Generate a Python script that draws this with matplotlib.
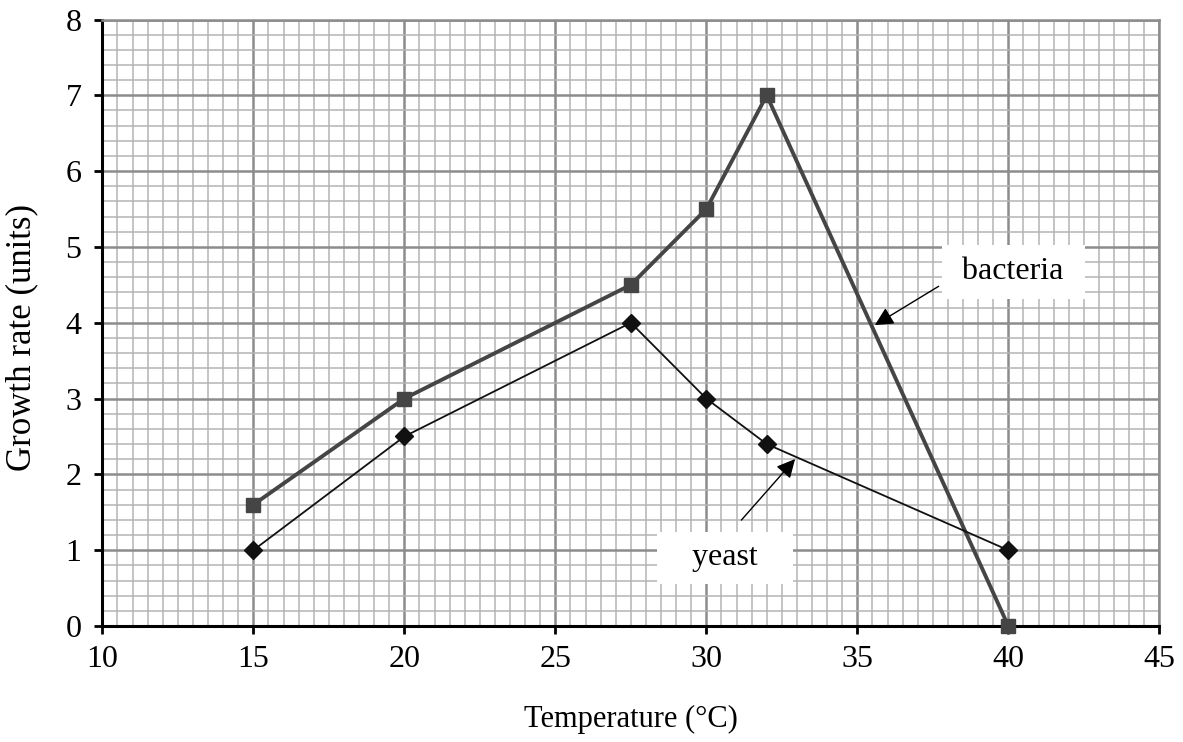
import matplotlib.pyplot as plt
from matplotlib.ticker import MultipleLocator

# data
temperature = [15, 20, 27.5, 30, 32, 40]
bacteria = [1.6, 3.0, 4.5, 5.5, 7.0, 0.0]
yeast = [1.0, 2.5, 4.0, 3.0, 2.4, 1.0]

plt.rcParams['font.family'] = ['Liberation Serif', 'DejaVu Serif']

fig = plt.figure(figsize=(11.83, 7.42), dpi=100)
ax = fig.add_axes([0.0865, 0.1563, 0.8935, 0.8174])

ax.set_xlim(10, 45)
ax.set_ylim(0, 8)

# graph paper grid
ax.xaxis.set_major_locator(MultipleLocator(5))
ax.xaxis.set_minor_locator(MultipleLocator(0.5))
ax.yaxis.set_major_locator(MultipleLocator(1))
ax.yaxis.set_minor_locator(MultipleLocator(0.2))
ax.grid(which='minor', color='#b4b4b4', lw=1.1)
ax.grid(which='major', color='#8c8c8c', lw=1.8)
ax.set_axisbelow(True)

# bacteria and yeast lines
ax.plot(temperature, bacteria, color='#454545', lw=2.8, marker='s',
        markersize=10, clip_on=False, zorder=4)
ax.plot(temperature, yeast, color='#111111', lw=1.3, marker='D',
        markersize=9, clip_on=False, zorder=4)

# labels with arrows
ax.text(40.16, 4.67, ' bacteria ', fontsize=23, ha='center', va='center', zorder=5,
        bbox=dict(boxstyle='square,pad=0.4', fc='white', ec='none'))
ax.annotate('', xy=(35.5, 3.95), xytext=(37.77, 4.5),
            arrowprops=dict(arrowstyle='-|>', color='black', lw=1,
                            mutation_scale=28), zorder=5)
ax.text(30.62, 0.9, '   yeast   ', fontsize=23, ha='center', va='center', zorder=5,
        bbox=dict(boxstyle='square,pad=0.36', fc='white', ec='none'))
ax.annotate('', xy=(33.0, 2.23), xytext=(31.1, 1.37),
            arrowprops=dict(arrowstyle='-|>', color='black', lw=1,
                            mutation_scale=28), zorder=5)

ax.spines['top'].set_color('#8c8c8c')
ax.spines['right'].set_color('#8c8c8c')
ax.spines['top'].set_linewidth(1.8)
ax.spines['right'].set_linewidth(1.8)
ax.spines['left'].set_linewidth(2.2)
ax.spines['bottom'].set_linewidth(2.2)

ax.tick_params(which='major', direction='out', length=6, width=2,
               labelsize=23)
ax.tick_params(axis='x', pad=8)
ax.tick_params(axis='y', pad=9)
ax.tick_params(which='minor', length=0)

ax.set_xlabel('Temperature (°C)', fontsize=22, labelpad=22)
ax.set_ylabel('Growth rate (units)', fontsize=25)
ax.yaxis.set_label_coords(-0.061, 0.475)

fig.savefig('out.png', dpi=100)
